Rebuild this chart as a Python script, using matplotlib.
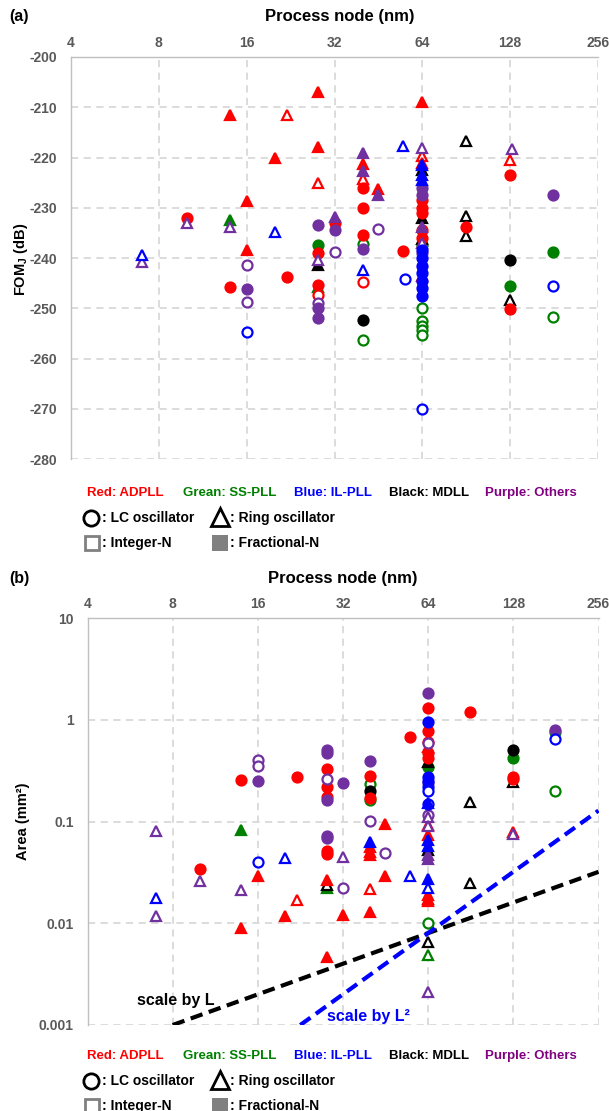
import matplotlib.pyplot as plt

plt.rcParams['font.family'] = ['Liberation Sans', 'DejaVu Sans']
plt.rcParams['font.weight'] = 'bold'
plt.rcParams['mathtext.fontset'] = 'custom'
plt.rcParams['mathtext.bf'] = 'Liberation Sans:bold'

# ---- data: (process node nm, value, oscillator, divider) ----
# oscillator: 'LC' or 'RO'; divider: 'I' integer-N, 'F' fractional-N
fom_adpll = [(28, -207, 'RO', 'F'), (14, -211.5, 'RO', 'F'), (22, -211.5, 'RO', 'I'),
             (28, -218, 'RO', 'F'), (20, -220, 'RO', 'F'), (28, -225, 'RO', 'I'),
             (16, -228.7, 'RO', 'F'), (10, -232, 'LC', 'F'), (16, -238.5, 'RO', 'F'),
             (28, -239, 'LC', 'F'), (22, -243.7, 'LC', 'F'), (14, -245.8, 'LC', 'F'),
             (32, -233, 'LC', 'F'), (28, -245.4, 'LC', 'F'), (28, -247.4, 'LC', 'I'),
             (40, -221.2, 'RO', 'F'), (40, -224.3, 'RO', 'I'), (40, -226.1, 'LC', 'F'),
             (40, -230, 'LC', 'F'), (40, -235.5, 'LC', 'F'), (40, -244.8, 'LC', 'I'),
             (45, -226.3, 'RO', 'F'), (55, -238.7, 'LC', 'F'), (64, -209, 'RO', 'F'),
             (64, -219.8, 'RO', 'I'), (64, -221, 'RO', 'F'), (64, -228.5, 'LC', 'F'),
             (64, -230, 'LC', 'F'), (64, -231, 'LC', 'F'), (64, -234.5, 'LC', 'F'),
             (64, -236, 'LC', 'F'), (64, -243.5, 'RO', 'F'),
             (90, -233.8, 'LC', 'F'), (128, -220.5, 'RO', 'I'), (128, -223.5, 'LC', 'F'),
             (128, -250.2, 'LC', 'F')]
fom_sspll = [(14, -232.4, 'RO', 'F'), (28, -237.5, 'LC', 'F'), (28, -245.7, 'RO', 'F'),
             (40, -237.2, 'LC', 'I'), (40, -256.3, 'LC', 'I'), (64, -237.5, 'LC', 'F'),
             (64, -249.9, 'LC', 'I'), (64, -252.5, 'LC', 'I'), (64, -253.5, 'LC', 'I'),
             (64, -254.3, 'LC', 'I'), (64, -255.3, 'LC', 'I'),
             (128, -245.5, 'LC', 'F'), (180, -238.9, 'LC', 'F'), (180, -251.8, 'LC', 'I')]
fom_ilpll = [(7, -239.4, 'RO', 'I'), (20, -234.8, 'RO', 'I'), (16, -254.8, 'LC', 'I'),
             (40, -242.4, 'RO', 'I'), (55, -217.8, 'RO', 'I'), (56, -244.2, 'LC', 'I'),
             (64, -221.5, 'RO', 'F'), (64, -223.5, 'RO', 'F'), (64, -224.5, 'RO', 'F'),
             (64, -238.5, 'LC', 'F'), (64, -240, 'LC', 'F'), (64, -241.5, 'LC', 'F'),
             (64, -243, 'LC', 'F'), (64, -244.5, 'LC', 'F'), (64, -246, 'LC', 'F'),
             (64, -247.5, 'LC', 'F'), (64, -270, 'LC', 'I'), (180, -245.6, 'LC', 'I')]
fom_mdll = [(28, -241.4, 'RO', 'F'), (40, -252.3, 'LC', 'F'), (64, -222.4, 'RO', 'F'),
            (64, -232.1, 'RO', 'F'), (64, -236.3, 'RO', 'I'),
            (90, -216.7, 'RO', 'I'), (90, -231.6, 'RO', 'I'), (90, -235.7, 'RO', 'I'),
            (128, -240.3, 'LC', 'F'), (128, -248.4, 'RO', 'I')]
fom_others = [(7, -240.7, 'RO', 'I'), (10, -233.1, 'RO', 'I'), (14, -233.8, 'RO', 'I'),
              (16, -241.4, 'LC', 'I'), (16, -246.2, 'LC', 'F'), (16, -248.8, 'LC', 'I'),
              (28, -233.4, 'LC', 'F'), (28, -240.4, 'RO', 'I'), (28, -248.9, 'LC', 'I'),
              (28, -250, 'LC', 'F'), (28, -252, 'LC', 'F'), (32, -231.8, 'RO', 'F'),
              (32, -234.4, 'LC', 'F'), (32, -238.9, 'LC', 'I'), (40, -219.2, 'RO', 'F'),
              (40, -222.7, 'RO', 'F'), (40, -238.3, 'LC', 'F'), (45, -227.5, 'RO', 'F'),
              (45, -234.3, 'LC', 'I'), (64, -218.2, 'RO', 'I'), (64, -226, 'LC', 'F'),
              (64, -227.5, 'LC', 'F'), (64, -233.8, 'RO', 'F'), (64, -237, 'RO', 'I'),
              (64, -239, 'LC', 'F'), (130, -218.3, 'RO', 'I'), (180, -227.5, 'LC', 'F')]

area_adpll = [(10, 0.034, 'LC', 'F'), (14, 0.255, 'LC', 'F'), (14, 0.0089, 'RO', 'F'),
              (16, 0.029, 'RO', 'F'), (20, 0.0118, 'RO', 'F'), (22, 0.272, 'LC', 'F'),
              (22, 0.0169, 'RO', 'I'), (28, 0.33, 'LC', 'F'), (28, 0.217, 'LC', 'F'),
              (28, 0.173, 'LC', 'F'), (28, 0.0515, 'LC', 'F'), (28, 0.048, 'LC', 'F'),
              (28, 0.0265, 'RO', 'F'), (28, 0.00466, 'RO', 'F'), (32, 0.012, 'RO', 'F'),
              (40, 0.28, 'LC', 'F'), (40, 0.17, 'LC', 'F'), (40, 0.056, 'RO', 'F'),
              (40, 0.05, 'RO', 'F'), (40, 0.047, 'RO', 'F'), (40, 0.0215, 'RO', 'I'),
              (40, 0.0129, 'RO', 'F'), (45, 0.094, 'RO', 'F'), (45, 0.0292, 'RO', 'F'),
              (55, 0.68, 'LC', 'F'), (64, 1.29, 'LC', 'F'), (64, 0.77, 'LC', 'F'),
              (64, 0.6, 'LC', 'F'), (64, 0.54, 'RO', 'F'), (64, 0.47, 'LC', 'F'),
              (64, 0.42, 'LC', 'F'), (64, 0.093, 'RO', 'I'), (64, 0.074, 'RO', 'F'),
              (64, 0.019, 'RO', 'F'), (64, 0.0175, 'RO', 'F'), (64, 0.0165, 'RO', 'F'),
              (90, 1.2, 'LC', 'F'), (128, 0.275, 'LC', 'F'),
              (128, 0.26, 'LC', 'F'), (128, 0.078, 'RO', 'I')]
area_sspll = [(14, 0.0826, 'RO', 'F'), (28, 0.0221, 'RO', 'F'), (40, 0.233, 'LC', 'I'),
              (40, 0.162, 'LC', 'I'), (64, 0.34, 'LC', 'F'), (64, 0.01, 'LC', 'I'),
              (64, 0.0049, 'RO', 'I'), (128, 0.42, 'LC', 'F'), (180, 0.76, 'LC', 'F'),
              (180, 0.2, 'LC', 'I')]
area_ilpll = [(7, 0.0178, 'RO', 'I'), (16, 0.0402, 'LC', 'I'), (20, 0.0434, 'RO', 'I'),
              (40, 0.063, 'RO', 'F'), (55, 0.0292, 'RO', 'I'), (64, 0.96, 'LC', 'F'),
              (64, 0.275, 'LC', 'F'), (64, 0.25, 'LC', 'F'), (64, 0.22, 'LC', 'F'),
              (64, 0.2, 'LC', 'I'), (64, 0.15, 'LC', 'I'), (64, 0.152, 'RO', 'F'),
              (64, 0.066, 'RO', 'F'), (64, 0.058, 'RO', 'F'),
              (64, 0.0271, 'RO', 'F'), (64, 0.0221, 'RO', 'I'), (180, 0.64, 'LC', 'I')]
area_mdll = [(28, 0.0239, 'RO', 'I'), (40, 0.2, 'LC', 'F'), (64, 0.387, 'RO', 'F'),
             (64, 0.052, 'RO', 'F'), (64, 0.0065, 'RO', 'I'), (90, 0.156, 'RO', 'I'),
             (90, 0.0249, 'RO', 'I'), (128, 0.504, 'LC', 'F'), (128, 0.245, 'RO', 'I')]
area_others = [(7, 0.0805, 'RO', 'I'), (7, 0.0118, 'RO', 'I'), (10, 0.0258, 'RO', 'I'),
               (14, 0.0211, 'RO', 'I'), (16, 0.40, 'LC', 'I'), (16, 0.353, 'LC', 'I'),
               (16, 0.249, 'LC', 'F'), (28, 0.504, 'LC', 'F'), (28, 0.47, 'LC', 'F'),
               (28, 0.26, 'LC', 'I'), (28, 0.162, 'LC', 'F'), (28, 0.0724, 'LC', 'F'),
               (28, 0.069, 'LC', 'F'), (32, 0.238, 'LC', 'F'), (32, 0.0443, 'RO', 'I'),
               (32, 0.0223, 'LC', 'I'), (40, 0.392, 'LC', 'F'), (40, 0.101, 'LC', 'I'),
               (45, 0.049, 'LC', 'I'), (64, 1.84, 'LC', 'F'), (64, 0.59, 'LC', 'I'),
               (64, 0.24, 'LC', 'F'), (64, 0.116, 'LC', 'I'), (64, 0.11, 'RO', 'I'),
               (64, 0.09, 'RO', 'I'), (64, 0.047, 'RO', 'F'), (64, 0.043, 'RO', 'F'),
               (64, 0.0021, 'RO', 'I'), (128, 0.075, 'RO', 'I'), (180, 0.80, 'LC', 'F')]

# reference scaling lines through (64 nm, 0.008 mm^2)
scale_L_node, scale_L_area = [8, 256], [0.001, 0.032]
scale_L2_node, scale_L2_area = [22.6, 256], [0.001, 0.128]

node_ticks = [4, 8, 16, 32, 64, 128, 256]
fom_ticks = [-200, -210, -220, -230, -240, -250, -260, -270, -280]
area_ticks = [10, 1, 0.1, 0.01, 0.001]
area_tick_labels = ['10', '1', '0.1', '0.01', '0.001']

COLORS = {'adpll': '#ff0000', 'sspll': '#008000', 'ilpll': '#0000ff',
          'mdll': '#000000', 'others': '#7030a0'}
W, H = 609, 1111
GRID = '#d9d9d9'
TICK = '#595959'


def draw_points(ax, pts, color):
    for node, val, osc, div in pts:
        marker = 'o' if osc == 'LC' else '^'
        ms = 7.2 if osc == 'LC' else 7.6
        face = color if div == 'F' else 'white'
        ax.plot(node, val, marker=marker, ms=ms, mfc=face, mec=color,
                mew=1.6, ls='none', clip_on=False, zorder=3)


def style_axes(ax):
    ax.set_xscale('log', base=2)
    ax.set_xlim(4, 256)
    ax.set_xticks(node_ticks)
    ax.set_xticklabels([str(t) for t in node_ticks])
    ax.xaxis.tick_top()
    ax.minorticks_off()
    ax.grid(True, color=GRID, ls=(0, (4, 3)), lw=1.3)
    ax.set_axisbelow(True)
    for s in ['bottom', 'right']:
        ax.spines[s].set_visible(False)
    for s in ['top', 'left']:
        ax.spines[s].set_color('#bfbfbf')
        ax.spines[s].set_linewidth(1.0)
    ax.tick_params(axis='x', length=0, pad=5, labelsize=10, labelcolor=TICK)
    ax.tick_params(axis='y', length=0, pad=10, labelsize=10, labelcolor=TICK)
    for lab in ax.get_xticklabels() + ax.get_yticklabels():
        lab.set_fontweight('bold')


fig = plt.figure(figsize=(W / 100, H / 100), dpi=100)

# ---- panel (a): FOM ----
ax1 = fig.add_axes([71 / W, 1 - 459 / H, 527 / W, 402 / H])
style_axes(ax1)
ax1.set_ylim(-280, -200)
ax1.set_yticks(fom_ticks)
ax1.set_yticklabels([str(t) for t in fom_ticks])
for lab in ax1.get_yticklabels():
    lab.set_fontweight('bold')
for pts, key in [(fom_sspll, 'sspll'), (fom_mdll, 'mdll'), (fom_adpll, 'adpll'),
                 (fom_others, 'others'), (fom_ilpll, 'ilpll')]:
    draw_points(ax1, pts, COLORS[key])

# ---- panel (b): Area ----
ax2 = fig.add_axes([87.5 / W, 1 - 1025 / H, 511 / W, 407 / H])
style_axes(ax2)
ax2.set_yscale('log')
ax2.set_ylim(0.001, 10)
ax2.set_yticks(area_ticks)
ax2.set_yticklabels(area_tick_labels)
ax2.minorticks_off()
for lab in ax2.get_yticklabels():
    lab.set_fontweight('bold')
for pts, key in [(area_sspll, 'sspll'), (area_mdll, 'mdll'), (area_adpll, 'adpll'),
                 (area_others, 'others'), (area_ilpll, 'ilpll')]:
    draw_points(ax2, pts, COLORS[key])
ax2.plot(scale_L_node, scale_L_area, color='black', lw=3, ls=(0, (3, 1.6)), zorder=4)
ax2.plot(scale_L2_node, scale_L2_area, color='#0000ff', lw=3, ls=(0, (3, 1.6)), zorder=4)

# ---- overlay in pixel coordinates for titles and legends ----
ov = fig.add_axes([0, 0, 1, 1])
ov.set_xlim(0, W)
ov.set_ylim(H, 0)
ov.axis('off')
ov.patch.set_alpha(0)

ov.text(9, 16, '(a)', fontsize=11.5, fontweight='bold', va='center')
ov.text(340, 16, 'Process node (nm)', fontsize=12, fontweight='bold', ha='center', va='center')
ov.text(9, 578, '(b)', fontsize=11.5, fontweight='bold', va='center')
ov.text(343, 578, 'Process node (nm)', fontsize=12, fontweight='bold', ha='center', va='center')
ov.text(21, 259, 'FOM$_\\mathbf{J}$ (dB)', fontsize=10.5, fontweight='bold',
        rotation=90, ha='center', va='center')
ov.text(23, 821, 'Area (mm²)', fontsize=10.5, fontweight='bold',
        rotation=90, ha='center', va='center')

ov.text(137, 1000, 'scale by L', fontsize=11.5, fontweight='bold', va='center')
ov.text(327, 1016, 'scale by L²', fontsize=11.5, fontweight='bold', va='center', color='#0000ff')

legend_names = ['Red: ADPLL', 'Grean: SS-PLL', 'Blue: IL-PLL', 'Black: MDLL', 'Purple: Others']
legend_colors = ['#ff0000', '#008000', '#0000ff', '#000000', '#800080']
legend_x = [87, 183, 294, 389, 485]


def draw_legend(y0):
    for name, col, x in zip(legend_names, legend_colors, legend_x):
        ov.text(x, y0, name, color=col, fontsize=9.5, fontweight='bold', va='center')
    y1, y2 = y0 + 25, y0 + 50
    ov.plot(91, y1, marker='o', ms=11, mfc='white', mec='black', mew=2)
    ov.text(102, y1, ': LC oscillator', fontsize=10, fontweight='bold', va='center')
    ov.plot(220, y1 - 1, marker='^', ms=13, mfc='white', mec='black', mew=2)
    ov.text(230, y1, ': Ring oscillator', fontsize=10, fontweight='bold', va='center')
    ov.plot(92, y2, marker='s', ms=10.5, mfc='white', mec='#808080', mew=2)
    ov.text(102, y2, ': Integer-N', fontsize=10, fontweight='bold', va='center')
    ov.plot(220, y2, marker='s', ms=12, mfc='#808080', mec='#808080', mew=0)
    ov.text(230, y2, ': Fractional-N', fontsize=10, fontweight='bold', va='center')


draw_legend(493)
draw_legend(1056)

fig.savefig('out.png', dpi=100)
